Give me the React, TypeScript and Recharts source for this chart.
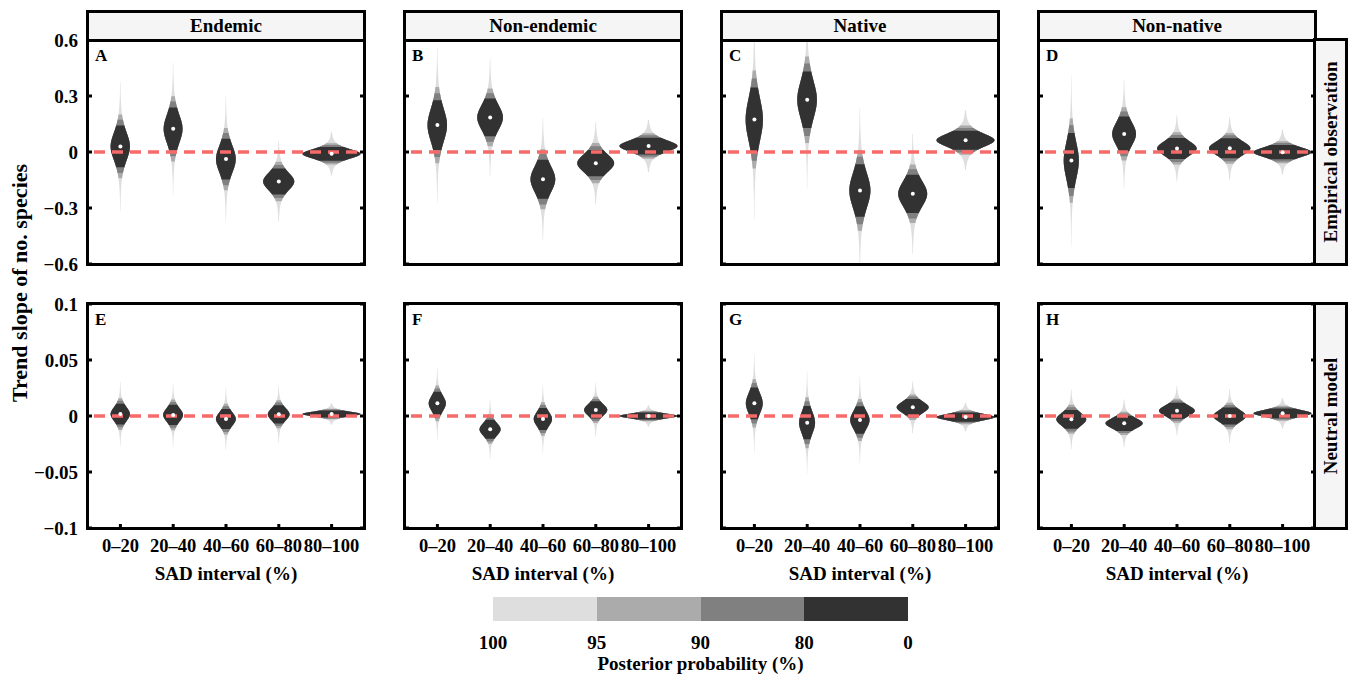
import { ComposedChart, Bar, Scatter, XAxis, YAxis, ReferenceLine } from "recharts"

const intervals = ["0–20", "20–40", "40–60", "60–80", "80–100"]
const groups = ["Endemic", "Non-endemic", "Native", "Non-native"]
const rowLabels = ["Empirical observation", "Neutral model"]
const panelTags = ["A", "B", "C", "D", "E", "F", "G", "H"]
const obsTicks = [-0.6, -0.3, 0, 0.3, 0.6]
const neuTicks = [-0.1, -0.05, 0, 0.05, 0.1]
const probLabels = ["100", "95", "90", "80", "0"]

// Empirical observation: posterior centre / spread of the trend slope
const endemicObsMean = [0.03, 0.124, -0.038, -0.158, -0.01]
const endemicObsSd = [0.087, 0.089, 0.085, 0.054, 0.029]
const nonEndemicObsMean = [0.144, 0.185, -0.146, -0.06, 0.032]
const nonEndemicObsSd = [0.104, 0.079, 0.082, 0.055, 0.035]
const nativeObsMean = [0.174, 0.28, -0.206, -0.224, 0.063]
const nativeObsSd = [0.134, 0.118, 0.11, 0.08, 0.04]
const nonNativeObsMean = [-0.046, 0.097, 0.019, 0.02, -0.001]
const nonNativeObsSd = [0.115, 0.073, 0.044, 0.042, 0.03]

// Neutral model
const endemicNeuMean = [0.0017, 0.001, -0.0027, 0.0015, 0.0018]
const endemicNeuSd = [0.0072, 0.007, 0.007, 0.0064, 0.0024]
const nonEndemicNeuMean = [0.0113, -0.0119, -0.0027, 0.0054, 0.0]
const nonEndemicNeuSd = [0.0081, 0.0066, 0.0076, 0.006, 0.0024]
const nativeNeuMean = [0.0113, -0.006, -0.0036, 0.0078, -0.001]
const nativeNeuSd = [0.011, 0.0116, 0.0096, 0.0058, 0.0032]
const nonNativeNeuMean = [-0.003, -0.0065, 0.0047, 0.0, 0.0024]
const nonNativeNeuSd = [0.0066, 0.0053, 0.0055, 0.006, 0.0034]

const panels = [
  { mean: endemicObsMean, sd: endemicObsSd, ticks: obsTicks },
  { mean: nonEndemicObsMean, sd: nonEndemicObsSd, ticks: obsTicks },
  { mean: nativeObsMean, sd: nativeObsSd, ticks: obsTicks },
  { mean: nonNativeObsMean, sd: nonNativeObsSd, ticks: obsTicks },
  { mean: endemicNeuMean, sd: endemicNeuSd, ticks: neuTicks },
  { mean: nonEndemicNeuMean, sd: nonEndemicNeuSd, ticks: neuTicks },
  { mean: nativeNeuMean, sd: nativeNeuSd, ticks: neuTicks },
  { mean: nonNativeNeuMean, sd: nonNativeNeuSd, ticks: neuTicks },
]

// interval half-widths in sd units: 100 / 95 / 90 / 80 %
const Z_EDGES = [4.0, 1.96, 1.6449, 1.2816]
const BAND_FILLS = ["#dedede", "#ababab", "#808080", "#323232"]
const Z80 = 1.2816

const FONT = '"Liberation Serif", "Times New Roman", serif'
const PW = 276
const PH = 224
const COL_X = [88, 405, 722, 1039]
const ROW_Y = [40, 304]
const HALF_MAX = 29
const BORDER = 3.5

const Y_TICK_TEXT = { fontFamily: FONT, fontWeight: 700, fontSize: 19, fill: "#000" }
const X_TICK_TEXT = { fontFamily: FONT, fontWeight: 700, fontSize: 18.5, fill: "#000" }
const TICK_LINE = { stroke: "#000", strokeWidth: 3 }

const fmt = (v: number) => (v < 0 ? "−" : "") + String(Math.abs(v))

// heavier-tailed bell profile, 1 at the centre
const profile = (z: number) => Math.pow(1 + (z * z) / 4, -2.5)

function Violin(props: any) {
  const { x, y, width, height } = props
  const d = props.payload ?? props
  if (!isFinite(x) || !isFinite(y) || !height || !d || !d.range) return null
  const [lo, hi] = d.range
  const ppu = height / (hi - lo)
  const cx = x + width / 2
  const toPx = (v: number) => y + (hi - v) * ppu
  const half = (HALF_MAX * d.minSd) / d.sd
  const zTopLim = (d.dMax - d.mean) / d.sd
  const zBotLim = (d.mean - d.dMin) / d.sd

  return (
    <g>
      {Z_EDGES.map((z, k) => {
        const zu = Math.min(z, zTopLim)
        const zl = Math.min(z, zBotLim)
        const n = 90
        const right: string[] = []
        const left: string[] = []
        for (let i = 0; i <= n; i++) {
          const zz = -zl + ((zu + zl) * i) / n
          const v = d.mean + zz * d.sd
          const w = half * profile(zz)
          const py = toPx(v).toFixed(2)
          right.push(`${(cx + w).toFixed(2)},${py}`)
          left.unshift(`${(cx - w).toFixed(2)},${py}`)
        }
        return <polygon key={k} points={[...right, ...left].join(" ")} fill={BAND_FILLS[k]} />
      })}
    </g>
  )
}

function MeanDot(props: any) {
  if (!isFinite(props.cx) || !isFinite(props.cy)) return <g />
  return <circle cx={props.cx} cy={props.cy} r={2} fill="#ffffff" />
}

const hiddenTick = () => <g />

function Panel({ idx }: { idx: number }) {
  const row = Math.floor(idx / 4)
  const col = idx % 4
  const p = panels[idx]
  const domain: [number, number] = [p.ticks[0], p.ticks[p.ticks.length - 1]]
  const minSd = Math.min(...p.sd)
  const rows = intervals.map((cat, i) => ({
    cat,
    mean: p.mean[i],
    sd: p.sd[i],
    range: [p.mean[i] - Z80 * p.sd[i], p.mean[i] + Z80 * p.sd[i]],
    minSd,
    dMin: domain[0],
    dMax: domain[1],
  }))
  const bottom = row === 1
  const left = col === 0
  const L = COL_X[col]
  const T = ROW_Y[row]

  return (
    <>
      <div style={{ position: "absolute", left: L - 70, top: T - 10 }}>
        <ComposedChart
          width={PW + 90}
          height={PH + (bottom ? 60 : 20)}
          data={rows}
          margin={{ top: 10, right: 10, left: 10, bottom: bottom ? 0 : 10 }}
        >
          <XAxis
            dataKey="cat"
            hide={!bottom}
            height={50}
            padding={{ left: 6, right: 6 }}
            interval={0}
            tickSize={-4}
            tickMargin={15}
            axisLine={false}
            tickLine={TICK_LINE}
            tick={X_TICK_TEXT}
          />
          <YAxis
            type="number"
            domain={domain}
            ticks={p.ticks}
            allowDataOverflow
            interval={0}
            width={60}
            tickSize={-4}
            tickMargin={14}
            axisLine={false}
            tickLine={TICK_LINE}
            tick={left ? Y_TICK_TEXT : hiddenTick}
            tickFormatter={fmt}
          />
          <YAxis
            yAxisId="r"
            orientation="right"
            type="number"
            domain={domain}
            ticks={p.ticks}
            allowDataOverflow
            interval={0}
            width={10}
            tickSize={-4}
            axisLine={false}
            tickLine={TICK_LINE}
            tick={hiddenTick}
          />
          <Bar dataKey="range" shape={Violin} isAnimationActive={false} />
          <ReferenceLine
            y={0}
            stroke="#f86a6a"
            strokeWidth={3.5}
            strokeDasharray="11 7"
            strokeDashoffset={12}
            zIndex={450}
          />
          <Scatter dataKey="mean" shape={MeanDot} isAnimationActive={false} />
        </ComposedChart>
      </div>
      {/* panel frame */}
      <div
        style={{
          position: "absolute",
          left: L - BORDER / 2,
          top: T - BORDER / 2,
          width: PW + BORDER,
          height: PH + BORDER,
          border: `${BORDER}px solid #000`,
          boxSizing: "border-box",
          pointerEvents: "none",
        }}
      />
      <div style={{ position: "absolute", left: L + 7, top: T + 6, fontFamily: FONT, fontWeight: 700, fontSize: 17, lineHeight: "20px" }}>
        {panelTags[idx]}
      </div>
      {row === 0 && (
        <div
          style={{
            position: "absolute",
            left: L - BORDER / 2,
            top: 12 - BORDER / 2,
            width: PW + BORDER,
            height: T - 12 + BORDER,
            border: `${BORDER}px solid #000`,
            boxSizing: "border-box",
            background: "#f5f5f5",
            display: "flex",
            alignItems: "center",
            justifyContent: "center",
            fontFamily: FONT,
            fontWeight: 700,
            fontSize: 19,
          }}
        >
          {groups[col]}
        </div>
      )}
      {col === 3 && (
        <div
          style={{
            position: "absolute",
            left: L + PW - BORDER / 2,
            top: T - BORDER / 2,
            width: 31 + BORDER,
            height: PH + BORDER,
            border: `${BORDER}px solid #000`,
            boxSizing: "border-box",
            background: "#f5f5f5",
          }}
        >
          <div
            style={{
              position: "absolute",
              left: "50%",
              top: "50%",
              transform: "translate(-50%, -50%) rotate(-90deg)",
              whiteSpace: "nowrap",
              fontFamily: FONT,
              fontWeight: 700,
              fontSize: 19,
            }}
          >
            {rowLabels[row]}
          </div>
        </div>
      )}
      {bottom && (
        <div
          style={{
            position: "absolute",
            left: L + PW / 2,
            top: 574,
            transform: "translate(-50%, -50%)",
            whiteSpace: "nowrap",
            fontFamily: FONT,
            fontWeight: 700,
            fontSize: 19,
          }}
        >
          SAD interval (%)
        </div>
      )}
    </>
  )
}

export default function App() {
  const barX = 493
  const barW = 415
  const seg = barW / BAND_FILLS.length
  return (
    <div style={{ position: "relative", width: 1351, height: 675, background: "#fff", overflow: "hidden" }}>
      <style>{"body{margin:0}"}</style>
      {panels.map((_, i) => (
        <Panel key={i} idx={i} />
      ))}

      {/* y-axis title */}
      <div
        style={{
          position: "absolute",
          left: 20,
          top: 283,
          transform: "translate(-50%, -50%) rotate(-90deg)",
          whiteSpace: "nowrap",
          fontFamily: FONT,
          fontWeight: 700,
          fontSize: 22,
        }}
      >
        Trend slope of no. species
      </div>

      {/* posterior probability colour bar */}
      <div style={{ position: "absolute", left: barX, top: 597, width: barW, height: 24, display: "flex" }}>
        {BAND_FILLS.map((c) => (
          <div key={c} style={{ flex: 1, background: c }} />
        ))}
      </div>
      {probLabels.map((t, i) => (
        <div
          key={t}
          style={{
            position: "absolute",
            left: barX + i * seg,
            top: 643,
            transform: "translate(-50%, -50%)",
            fontFamily: FONT,
            fontWeight: 700,
            fontSize: 19,
          }}
        >
          {t}
        </div>
      ))}
      <div
        style={{
          position: "absolute",
          left: barX + barW / 2,
          top: 664,
          transform: "translate(-50%, -50%)",
          whiteSpace: "nowrap",
          fontFamily: FONT,
          fontWeight: 700,
          fontSize: 19,
        }}
      >
        Posterior probability (%)
      </div>
    </div>
  )
}
